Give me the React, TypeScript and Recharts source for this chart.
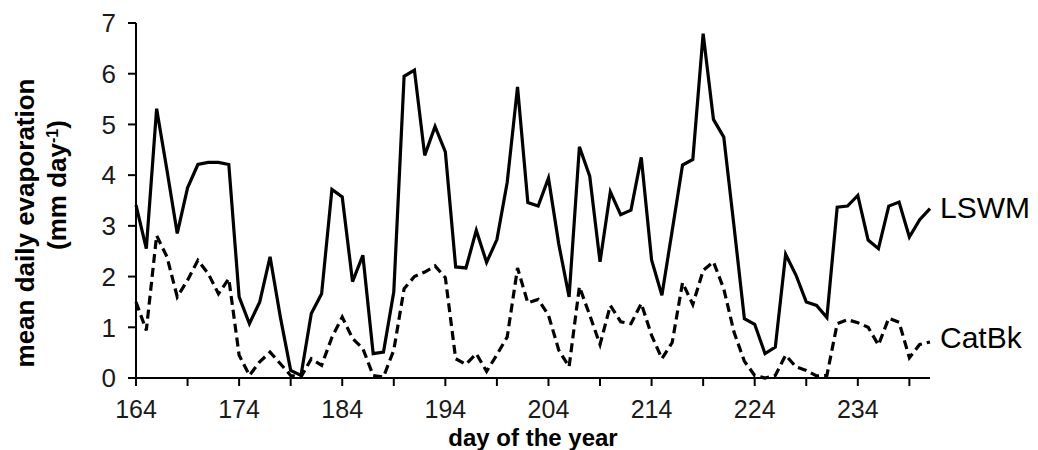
import React from "react";
import { LineChart, Line, XAxis, YAxis } from "recharts";

const days = [
  164, 165, 166, 167, 168, 169, 170, 171, 172, 173,
  174, 175, 176, 177, 178, 179, 180, 181, 182, 183,
  184, 185, 186, 187, 188, 189, 190, 191, 192, 193,
  194, 195, 196, 197, 198, 199, 200, 201, 202, 203,
  204, 205, 206, 207, 208, 209, 210, 211, 212, 213,
  214, 215, 216, 217, 218, 219, 220, 221, 222, 223,
  224, 225, 226, 227, 228, 229, 230, 231, 232, 233,
  234, 235, 236, 237, 238, 239, 240, 241,
];

const lswm = [
  3.41, 2.55, 5.31, 4.1, 2.85, 3.75, 4.21, 4.25, 4.25, 4.21,
  1.6, 1.07, 1.5, 2.39, 1.2, 0.15, 0.05, 1.27, 1.66, 3.72,
  3.57, 1.9, 2.42, 0.48, 0.51, 1.7, 5.95, 6.07, 4.39, 4.96,
  4.46, 2.19, 2.17, 2.91, 2.28, 2.73, 3.86, 5.74, 3.46, 3.39,
  3.94, 2.64, 1.6, 4.56, 3.98, 2.29, 3.67, 3.22, 3.31, 4.35,
  2.33, 1.63, 2.91, 4.2, 4.31, 6.79, 5.1, 4.75, 2.98, 1.17,
  1.06, 0.48, 0.61, 2.44, 2.03, 1.5, 1.43, 1.19, 3.37, 3.39,
  3.6, 2.72, 2.55, 3.39, 3.47, 2.78, 3.12, 3.34,
];

const catbk = [
  1.5, 0.94, 2.81, 2.39, 1.6, 1.93, 2.32, 2.06, 1.66, 1.96,
  0.45, 0.05, 0.32, 0.51, 0.28, 0.05, 0.02, 0.38, 0.25, 0.8,
  1.2, 0.78, 0.58, 0.05, 0.02, 0.55, 1.76, 2.0, 2.09, 2.21,
  1.98, 0.38, 0.27, 0.48, 0.13, 0.46, 0.81, 2.17, 1.48, 1.55,
  1.24, 0.55, 0.22, 1.8, 1.24, 0.66, 1.43, 1.11, 1.07, 1.47,
  0.84, 0.38, 0.7, 1.88, 1.45, 2.12, 2.29, 1.76, 0.9, 0.33,
  0.05, 0.0, 0.05, 0.45, 0.22, 0.15, 0.04, 0.05, 1.07, 1.15,
  1.09, 1.0, 0.65, 1.18, 1.1, 0.4, 0.66, 0.71,
];

const xTicks = [164, 169, 174, 179, 184, 189, 194, 199, 204, 209, 214, 219, 224, 229, 234, 239];
const xLabelTicks = [164, 174, 184, 194, 204, 214, 224, 234];
const yTicks = [0, 1, 2, 3, 4, 5, 6, 7];

const seriesNames = { lswm: "LSWM", catbk: "CatBk" };
const xTitle = "day of the year";
const yTitle1 = "mean daily evaporation";
const yTitle2 = "(mm day";

const data = days.map((d, i) => ({ day: d, lswm: lswm[i], catbk: catbk[i] }));
const lastIndex = days.length - 1;

const FONT = "'Liberation Sans', Arial, sans-serif";

const endLabel = (name: string, dy: number) => (props: any) => {
  if (props.index !== lastIndex) return <g key={`e-${name}-${props.index}`} />;
  return (
    <text
      key={`e-${name}`}
      x={props.x + 10}
      y={props.y + dy}
      fontFamily={FONT}
      fontSize={30}
      fill="#000"
      textAnchor="start"
      dominantBaseline="central"
    >
      {name}
    </text>
  );
};

const YTitle = () => (
  <g>
    <text
      x={0}
      y={0}
      transform="translate(34, 223) rotate(-90)"
      textAnchor="middle"
      fontFamily={FONT}
      fontWeight="bold"
      fontSize={26}
      fill="#000"
    >
      {yTitle1}
    </text>
    <text
      x={0}
      y={0}
      transform="translate(66, 185) rotate(-90)"
      textAnchor="middle"
      fontFamily={FONT}
      fontWeight="bold"
      fontSize={26}
      fill="#000"
    >
      {yTitle2}
      <tspan baselineShift="super" fontSize={16}>-1</tspan>
      <tspan>)</tspan>
    </text>
  </g>
);

const XTitle = (props: any) => {
  const vb = props.viewBox || { x: 136, width: 794 };
  return (
    <text
      x={vb.x + vb.width / 2}
      y={446}
      textAnchor="middle"
      fontFamily={FONT}
      fontWeight="bold"
      fontSize={24}
      fill="#000"
    >
      {xTitle}
    </text>
  );
};

export default function App() {
  return (
    <div style={{ position: "absolute", left: 0, top: 0, width: 1038, height: 450, background: "#fff" }}>
      <LineChart
        width={1038}
        height={450}
        data={data}
        margin={{ top: 23, right: 108, bottom: 0, left: 0 }}
      >
        <XAxis
          dataKey="day"
          type="number"
          domain={[164, 241]}
          ticks={xTicks}
          interval={0}
          height={72}
          axisLine={{ stroke: "#000", strokeWidth: 2 }}
          tickLine={{ stroke: "#000", strokeWidth: 2 }}
          tickSize={8}
          tickMargin={14}
          tick={{ fill: "#1a1a1a", fontSize: 25, fontFamily: FONT }}
          tickFormatter={(v: number) => (xLabelTicks.includes(v) ? String(v) : "")}
          label={{ content: XTitle }}
        />
        <YAxis
          type="number"
          domain={[0, 7]}
          ticks={yTicks}
          interval={0}
          width={136}
          axisLine={{ stroke: "#000", strokeWidth: 2 }}
          tickLine={{ stroke: "#000", strokeWidth: 2 }}
          tickSize={8}
          tickMargin={12}
          tick={{ fill: "#1a1a1a", fontSize: 26, fontFamily: FONT }}
          label={{ content: YTitle }}
        />
        <Line
          type="linear"
          dataKey="lswm"
          stroke="#000"
          strokeWidth={3.2}
          dot={false}
          isAnimationActive={false}
          label={endLabel(seriesNames.lswm, -1)}
        />
        <Line
          type="linear"
          dataKey="catbk"
          stroke="#000"
          strokeWidth={3.2}
          strokeDasharray="9 5"
          dot={false}
          isAnimationActive={false}
          label={endLabel(seriesNames.catbk, -4)}
        />
      </LineChart>
    </div>
  );
}
